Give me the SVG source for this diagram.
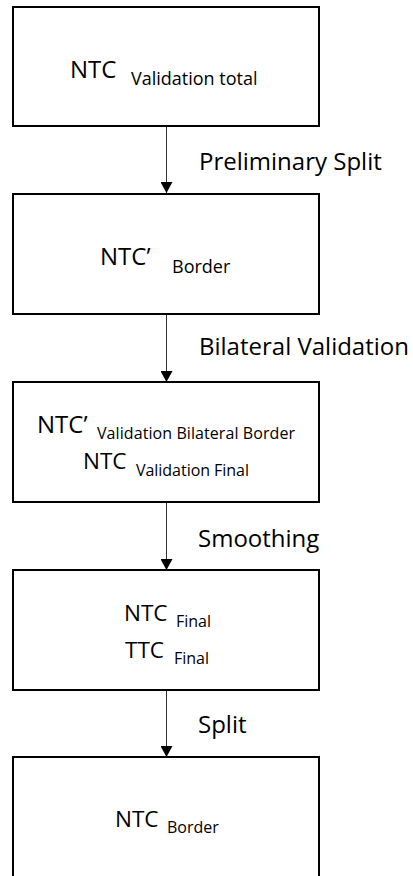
<svg xmlns="http://www.w3.org/2000/svg" width="413" height="876" viewBox="0 0 413 876">
<defs>
<style>
.box{fill:#fff;stroke:#000;stroke-width:2}
.t{font-family:"Open Sans","Liberation Sans",sans-serif;fill:#000}
.big{font-size:24px}
.mid{font-size:22.5px}
.sub{font-size:18px}
.sm{font-size:16px}
.lbl{font-family:"Open Sans","Liberation Sans",sans-serif;font-size:24px;fill:#000}
.con{stroke:#333;stroke-width:1;fill:none}
</style>
<marker id="ah" markerWidth="11" markerHeight="12" refX="11" refY="6" orient="auto" markerUnits="userSpaceOnUse">
<path d="M0,0 L11,6 L0,12 Z" fill="#000"/>
</marker>
</defs>
<rect width="413" height="876" fill="#fff"/>
<g id="connectors">
<line class="con" x1="166.5" y1="127" x2="166.5" y2="193" marker-end="url(#ah)"/>
<line class="con" x1="166.5" y1="315" x2="166.5" y2="382" marker-end="url(#ah)"/>
<line class="con" x1="166.5" y1="503" x2="166.5" y2="570" marker-end="url(#ah)"/>
<line class="con" x1="166.5" y1="690" x2="166.5" y2="757" marker-end="url(#ah)"/>
<text class="lbl" x="199" y="170">Preliminary Split</text>
<text class="lbl" x="199" y="355">Bilateral Validation</text>
<text class="lbl" x="198" y="547">Smoothing</text>
<text class="lbl" x="198" y="733">Split</text>
</g>
<g id="n1">
<rect class="box" x="13" y="7" width="306" height="119"/>
<text class="t big" x="70" y="78">NTC</text>
<text class="t sub" x="131" y="85">Validation total</text>
</g>
<g id="n2">
<rect class="box" x="13" y="194" width="306" height="120"/>
<text class="t big" x="100" y="265">NTC’</text>
<text class="t sub" x="172" y="273">Border</text>
</g>
<g id="n3">
<rect class="box" x="13" y="382" width="306" height="120"/>
<text class="t big" x="37" y="433">NTC’</text>
<text class="t sm" x="97" y="439" textLength="198">Validation Bilateral Border</text>
<text class="t mid" x="83" y="469">NTC</text>
<text class="t sm" x="136" y="476" textLength="113">Validation Final</text>
</g>
<g id="n4">
<rect class="box" x="13" y="570" width="306" height="120"/>
<text class="t mid" x="124" y="621">NTC</text>
<text class="t sm" x="176" y="627">Final</text>
<text class="t mid" x="125" y="658">TTC</text>
<text class="t sm" x="174" y="664">Final</text>
</g>
<g id="n5">
<rect class="box" x="13" y="757" width="306" height="130"/>
<text class="t mid" x="115" y="827">NTC</text>
<text class="t sm" x="167" y="833">Border</text>
</g>
</svg>
